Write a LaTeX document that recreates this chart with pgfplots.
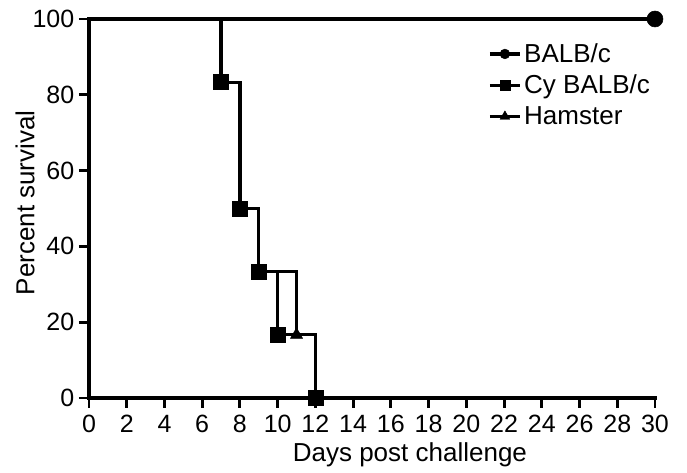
\documentclass[border=0pt]{standalone}
\usepackage{pgfplots}
\pgfplotsset{compat=1.18}
\usepackage{pgfplotstable}
\usepackage{fontspec}
\setmainfont{Liberation Sans}

\pgfplotstableread{
x y
0 100
30 100
}\balb
\pgfplotstableread{
x y
0 100
7 83.33
8 50
9 33.33
10 16.67
12 0
}\cy
\pgfplotstableread{
x y
0 100
7 83.33
8 50
9 33.33
11 16.67
12 0
}\ham

\begin{document}
\begin{tikzpicture}
\begin{axis}[
  at={(0,0)}, anchor=south west,
  scale only axis, width=424.5pt, height=284.25pt,
  xmin=0, xmax=30, ymin=0, ymax=100,
  axis x line=bottom, axis y line=left,
  axis line style={-, line width=2.4pt, line cap=rect},
  clip=false,
  xtick={0,2,...,30}, ytick={0,20,...,100},
  tick align=outside, major tick length=7.5pt,
  tick style={line width=2.2pt, black},
  tick label style={font=\fontsize{18.75}{22}\selectfont},
  xticklabel style={yshift=-2pt},
  /pgf/number format/assume math mode=true,
  xlabel={Days post challenge},
  ylabel={Percent survival},
  label style={font=\fontsize{19.5}{23}\selectfont},
  x label style={at={(axis description cs:0.567,0)}, anchor=base, yshift=-48pt},
  y label style={at={(axis description cs:0,0.515)}, anchor=center, rotate=0, yshift=48pt},
  legend style={at={(axis description cs:0.698,0.95)}, anchor=north west,
    draw=none, fill=none, font=\fontsize{19.5}{23}\selectfont, row sep=4pt},
  legend cell align=left,
  legend image code/.code={\draw[mark repeat=2,mark phase=2,#1] plot coordinates {(0pt,0pt)(11.25pt,0pt)(22.5pt,0pt)};},
]
% step lines
\addplot[black, line width=2.4pt, const plot mark left, forget plot] table {\ham};
\addplot[black, line width=2.4pt, const plot mark left, forget plot] table {\cy};
\addplot[black, line width=2.4pt, const plot mark left, forget plot] table {\balb};
% marks
\addplot[only marks, mark=triangle*, mark size=5.2pt, black, forget plot] table[skip coords between index={0}{1}] {\ham};
\addplot[only marks, mark=square*, mark size=5.6pt, black, forget plot] table[skip coords between index={0}{1}] {\cy};
\addplot[only marks, mark=*, mark size=6pt, black, forget plot] table[skip coords between index={0}{1}] {\balb};
% legend
\addlegendimage{black, line width=2.4pt, mark=*, mark size=3.7pt, mark options={line width=0.3pt}}
\addlegendentry{BALB/c}
\addlegendimage{black, line width=2.4pt, mark=square*, mark size=3.6pt, mark options={line width=0.3pt}}
\addlegendentry{Cy BALB/c}
\addlegendimage{black, line width=2.4pt, mark=triangle*, mark size=4.2pt, mark options={line width=0.3pt}}
\addlegendentry{Hamster}
\end{axis}
\pgfresetboundingbox
\path[use as bounding box] (-66.75pt,-56.25pt) rectangle (448.5pt,298.5pt);
\end{tikzpicture}
\end{document}
